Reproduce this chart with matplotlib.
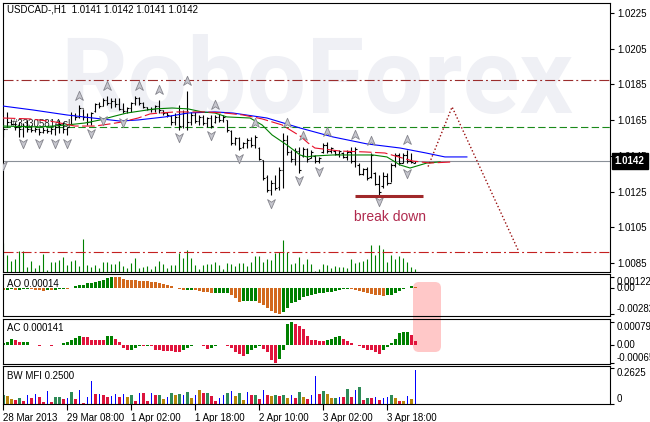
import numpy as np
import matplotlib
matplotlib.use("Agg")
import matplotlib.pyplot as plt
from matplotlib.path import Path
from matplotlib.patches import FancyBboxPatch
from matplotlib.transforms import IdentityTransform

plt.rcParams['font.family'] = ['Liberation Sans', 'DejaVu Sans']
plt.rcParams['font.size'] = 7
plt.rcParams['lines.scale_dashes'] = False

# ---------------- data ----------------
title_text = "USDCAD-,H1  1.0141 1.0142 1.0141 1.0142"
order_label = "#33305814 sl"

high = [1.01661,1.01698,1.01655,1.01642,1.01642,1.01633,1.01651,1.01623,1.01614,1.01605,
        1.01610,1.01605,1.01610,1.01623,1.01651,1.01642,1.01614,1.01698,1.01692,1.01735,
        1.01711,1.01689,1.01698,1.01745,1.01754,1.01773,1.01785,1.01773,1.01773,1.01773,
        1.01745,1.01725,1.01754,1.01785,1.01781,1.01754,1.01725,1.01725,1.01735,1.01763,
        1.01707,1.01698,1.01679,1.01689,1.01735,1.01707,1.01815,1.01698,1.01698,1.01679,
        1.01679,1.01670,1.01679,1.01679,1.01685,1.01679,1.01651,1.01595,1.01556,1.01556,
        1.01528,1.01550,1.01556,1.01567,1.01500,1.01427,1.01343,1.01315,1.01343,1.01388,
        1.01578,1.01567,1.01483,1.01494,1.01500,1.01500,1.01494,1.01483,1.01455,1.01444,
        1.01522,1.01528,1.01500,1.01483,1.01483,1.01472,1.01483,1.01500,1.01500,1.01410,
        1.01382,1.01388,1.01466,1.01360,1.01343,1.01360,1.01354,1.01410,1.01466,1.01466,
        1.01466,1.01483,1.01466,1.01420]
low = [1.01558,1.01610,1.01623,1.01595,1.01558,1.01558,1.01586,1.01586,1.01586,1.01567,
       1.01576,1.01576,1.01573,1.01567,1.01576,1.01576,1.01567,1.01623,1.01651,1.01661,
       1.01651,1.01623,1.01623,1.01698,1.01717,1.01729,1.01735,1.01717,1.01725,1.01707,
       1.01689,1.01689,1.01698,1.01735,1.01735,1.01717,1.01707,1.01698,1.01698,1.01689,
       1.01679,1.01670,1.01623,1.01623,1.01595,1.01605,1.01595,1.01623,1.01633,1.01623,
       1.01623,1.01614,1.01606,1.01634,1.01640,1.01640,1.01584,1.01511,1.01511,1.01483,
       1.01494,1.01494,1.01500,1.01494,1.01427,1.01315,1.01248,1.01231,1.01259,1.01259,
       1.01270,1.01455,1.01416,1.01399,1.01354,1.01444,1.01416,1.01438,1.01410,1.01410,
       1.01466,1.01466,1.01466,1.01455,1.01444,1.01438,1.01427,1.01410,1.01388,1.01343,
       1.01343,1.01315,1.01326,1.01287,1.01231,1.01270,1.01287,1.01304,1.01388,1.01399,
       1.01410,1.01410,1.01410,1.01410]
open_ = [1.01640,1.01600,1.01640,1.01630,1.01610,1.01600,1.01620,1.01600,1.01595,1.01600,
         1.01585,1.01595,1.01590,1.01600,1.01610,1.01630,1.01600,1.01630,1.01680,1.01665,
         1.01720,1.01670,1.01640,1.01700,1.01740,1.01730,1.01765,1.01745,1.01760,1.01740,
         1.01715,1.01700,1.01720,1.01745,1.01775,1.01745,1.01725,1.01715,1.01710,1.01730,
         1.01705,1.01690,1.01675,1.01640,1.01670,1.01620,1.01690,1.01640,1.01680,1.01645,
         1.01665,1.01635,1.01660,1.01640,1.01670,1.01650,1.01650,1.01590,1.01520,1.01550,
         1.01500,1.01520,1.01540,1.01510,1.01495,1.01425,1.01330,1.01260,1.01300,1.01275,
         1.01370,1.01540,1.01470,1.01430,1.01480,1.01450,1.01490,1.01440,1.01450,1.01420,
         1.01470,1.01510,1.01480,1.01475,1.01460,1.01465,1.01445,1.01470,1.01420,1.01400,
         1.01350,1.01375,1.01330,1.01355,1.01295,1.01280,1.01340,1.01300,1.01400,1.01455,
         1.01410,1.01455,1.01420,1.01410]
close = [1.01600,1.01640,1.01630,1.01610,1.01600,1.01620,1.01600,1.01595,1.01600,1.01585,
         1.01595,1.01590,1.01600,1.01610,1.01630,1.01600,1.01610,1.01680,1.01665,1.01720,
         1.01670,1.01640,1.01690,1.01740,1.01730,1.01765,1.01745,1.01760,1.01740,1.01715,
         1.01700,1.01720,1.01745,1.01775,1.01745,1.01725,1.01715,1.01710,1.01730,1.01705,
         1.01690,1.01680,1.01640,1.01670,1.01620,1.01690,1.01640,1.01680,1.01645,1.01665,
         1.01635,1.01660,1.01620,1.01670,1.01650,1.01670,1.01595,1.01520,1.01550,1.01495,
         1.01520,1.01540,1.01510,1.01555,1.01435,1.01325,1.01260,1.01300,1.01270,1.01370,
         1.01540,1.01470,1.01430,1.01480,1.01370,1.01490,1.01430,1.01470,1.01420,1.01440,
         1.01510,1.01480,1.01495,1.01460,1.01475,1.01445,1.01470,1.01420,1.01490,1.01350,
         1.01375,1.01325,1.01455,1.01295,1.01250,1.01340,1.01300,1.01400,1.01455,1.01410,
         1.01455,1.01420,1.01415,1.01420]
volume = [1188,680,440,520,840,840,200,440,160,280,
          720,80,400,400,480,600,280,440,480,240,
          1320,280,200,280,160,400,400,320,320,440,
          240,160,360,560,160,200,240,120,240,440,
          320,160,280,280,760,560,880,560,280,120,
          280,320,320,400,280,120,360,320,240,360,
          360,240,400,640,640,400,520,480,760,800,
          1280,800,320,360,600,320,520,320,40,120,
          320,280,160,240,200,200,160,520,360,400,
          440,520,1080,680,1080,920,400,680,520,640,
          560,400,200,120]

# shifted moving averages (bar position, price)
blue_x = [-0.1, 7.4, 15.9, 22.4, 29.2, 33.7, 40.4, 46.2, 52.9, 57.4, 65.9, 74.2, 82.4, 90.9, 99.2, 105.7, 110.4, 115.9]
blue_y = [1.01729, 1.01707, 1.01679, 1.01662, 1.01645, 1.01651, 1.01668, 1.01690, 1.01696, 1.01690, 1.01662,
          1.01606, 1.01556, 1.01517, 1.01494, 1.01466, 1.01444, 1.01444]
red_x = [-0.1, 6.7, 12.9, 17.9, 22.9, 26.7, 29.7, 33.7, 36.7, 39.2, 42.9, 50.4, 55.4, 59.9, 64.7, 69.7,
         74.2, 76.2, 77.9, 84.2, 90.4, 95.4, 102.4, 106.7, 112.4]
red_y = [1.01662, 1.01657, 1.01640, 1.01617, 1.01617, 1.01629, 1.01640, 1.01662, 1.01685, 1.01690, 1.01696,
         1.01696, 1.01690, 1.01679, 1.01657, 1.01623, 1.01561, 1.01522, 1.01494, 1.01477, 1.01472, 1.01466,
         1.01421, 1.01410, 1.01416]
green_x = [-0.1, 9.2, 15.9, 20.4, 24.2, 27.9, 30.9, 34.2, 37.9, 42.2, 46.2, 49.7, 52.9, 55.9, 61.7, 64.7,
           67.2, 70.9, 74.2, 75.9, 77.4, 82.4, 92.4, 95.9, 99.2, 101.7, 105.9, 109.2]
green_y = [1.01617, 1.01612, 1.01623, 1.01634, 1.01651, 1.01673, 1.01690, 1.01701, 1.01713, 1.01718, 1.01713,
           1.01696, 1.01690, 1.01668, 1.01662, 1.01623, 1.01567, 1.01511, 1.01455, 1.01444, 1.01449, 1.01455,
           1.01455, 1.01444, 1.01399, 1.01382, 1.01410, 1.01416]

# fractals
frac_up_bar = [19, 26, 34, 39, 46, 53, 63, 71, 75, 81, 88, 92, 101]
frac_up_price = [1.01785, 1.01841, 1.01841, 1.01819, 1.01869, 1.01735, 1.01634, 1.01634, 1.01561, 1.01584,
                 1.01567, 1.01533, 1.01539]
frac_dn_bar = [0, 5, 9, 13, 16, 22, 25, 30, 44, 52, 59, 67, 74, 79, 94, 101]
frac_dn_price = [1.01399, 1.01522, 1.01522, 1.01522, 1.01522, 1.01578, 1.01651, 1.01640, 1.01556, 1.01567,
                 1.01438, 1.01186, 1.01315, 1.01365, 1.01197, 1.01354]

# levels and analysis drawing
level_brown = 1.01876
level_green = 1.01610
level_current = 1.0142
level_red = 1.00910
order_label_pos = (2.2, 1.01630)
breakdown_bars = [87.9, 104.9]
breakdown_price = 1.01225
breakdown_label_pos = (96.7, 1.01108)
forecast_x = [106.2, 112.2, 128.7]
forecast_y = [1.01390, 1.01724, 1.00923]

price_ticks = [1.0225, 1.0205, 1.0185, 1.0165, 1.0145, 1.0125, 1.0105, 1.0085]

# oscillators
ao_pts = [-27,-21,-16,-27,-21,-16,-11,-16,-21,-27,
          -29,-21,-27,-21,-16,-11,-16,-5,18,29,
          35,50,54,64,72,83,107,122,120,116,
          100,89,86,81,75,73,70,64,59,48,
          38,27,16,3,-16,-24,-19,-18,-25,-35,
          -43,-48,-55,-54,-53,-52,-50,-75,-107,-146,
          -144,-143,-142,-141,-161,-186,-215,-250,-268,-282,
          -261,-215,-161,-150,-126,-97,-89,-72,-61,-59,
          -56,-48,-43,-35,-27,-16,-11,-16,-25,-35,
          -46,-54,-64,-72,-78,-81,-78,-72,-54,-35,
          -11,3,17,14]
ao_colors = ("oggogggoooogogggog" + "g" * 10 + "o" * 18 + "gg" + "ooooo" + "gggg" + "ooo" + "gggg"
             + "oooooo" + "g" * 17 + "o" * 9 + "g" * 7 + "o")
ac_pts = [46,107,203,143,82,96,107,-8,-25,-61,
          -25,-11,-36,-25,-11,46,96,143,225,286,
          282,261,178,168,164,143,286,289,203,82,
          -118,-189,-186,-118,-46,-71,-36,-71,-189,-214,
          -218,-221,-239,-261,-264,-189,-118,-71,-25,-11,
          -36,-154,-118,-46,-11,-25,-71,-118,-261,-332,
          -428,-332,-214,-118,-46,-154,-275,-546,-650,-511,
          -214,739,793,714,678,560,321,168,143,139,
          136,168,203,261,286,203,118,46,-8,-71,
          -118,-189,-214,-275,-332,-189,-96,36,203,403,
          439,443,357,141]
ac_colors = ("gggrrggrrrggrgg" + "ggggg" + "rrrrrr" + "gg" + "rrrr" + "ggg" + "r" + "g" + "r" * 8
             + "ggggg" + "rr" + "ggg" + "rrrrrr" + "gggg" + "rrrr" + "gggg" + "r" * 8 + "gggg"
             + "r" * 10 + "g" * 7 + "rr")
mfi = [0.0698,0.0623,0.0375,0.0300,0.0473,0.0248,0.0698,0.0473,0.0728,0.0503,
       0.0173,0.0998,0.0173,0.0503,0.0548,0.0398,0.0473,0.0923,0.0375,0.1073,
       0.0098,0.0548,0.1673,0.0773,0.0728,0.0675,0.0503,0.0623,0.0728,0.0548,
       0.0750,0.0503,0.0698,0.0248,0.0803,0.0848,0.0248,0.0848,0.0698,0.0698,
       0.0398,0.0503,0.0803,0.0698,0.0728,0.0675,0.0923,0.0473,0.0675,0.1073,
       0.0848,0.0848,0.0623,0.0248,0.0428,0.0698,0.0848,0.0998,0.0623,0.0848,
       0.0323,0.0923,0.0653,0.0653,0.0398,0.1073,0.0698,0.0623,0.0698,0.0623,
       0.0698,0.0473,0.0698,0.0473,0.0923,0.0548,0.0398,0.0698,0.2048,0.0773,
       0.0998,0.0773,0.0473,0.0473,0.0548,0.0548,0.1148,0.0548,0.1073,0.1298,
       0.0323,0.0473,0.0473,0.0548,0.0323,0.0473,0.0548,0.0698,0.0473,0.0248,
       0.0248,0.0623,0.0398,0.2500]
mfi_colors = ("gyyrgrbrbr" "rbrggrbgrb" "rbbrbrrbbr" "bygrbrrbrg" "ybgygbgyby"
              "rgrrbbgbyg" "ybrgrbrygr" "gybrgyrbbr" "gyygbrgrbg" "rgrbrbbgyr" "ybyb")

xtick_bars = [0, 16, 32, 48, 64, 80, 96]
xtick_labels = ["28 Mar 2013", "29 Mar 08:00", "1 Apr 02:00", "1 Apr 18:00",
                "2 Apr 10:00", "3 Apr 02:00", "3 Apr 18:00"]

# ---------------- figure ----------------
W, H = 650, 422
fig = plt.figure(figsize=(W / 100, H / 100), dpi=100, facecolor='white')

def px_axes(x0, y0, x1, y1):
    return fig.add_axes([x0 / W, 1 - y1 / H, (x1 - x0) / W, (y1 - y0) / H])

x_lim = (-0.08, 151.68)
ax = px_axes(3, 3, 610, 272.3)
vax = ax.twinx()
ax.set_zorder(vax.get_zorder() + 1)
ax.patch.set_visible(False)
vax.patch.set_visible(False)
ax_ao = px_axes(3, 274, 610, 316)
ax_ac = px_axes(3, 318.7, 610, 364)
ax_mfi = px_axes(3, 366.3, 610, 404.3)

for a in (ax, ax_ao, ax_ac, ax_mfi):
    a.set_xlim(*x_lim)
    for s in a.spines.values():
        s.set_linewidth(0.8)
        s.set_color('black')
    a.set_facecolor('none')
for s in vax.spines.values():
    s.set_visible(False)
vax.set_xlim(*x_lim)
vax.set_yticks([])
vax.tick_params(right=False, left=False)

bars = np.arange(len(high))

# watermark
ax.text(314 / 607, 0.59, "RoboForex", transform=ax.transAxes, ha='center', va='baseline',
        fontsize=76, fontweight='bold', family='Roboto', color='#eff0f5', zorder=0.1)

# horizontal levels
ax.axhline(level_brown, color='#9b2d2d', lw=0.8, ls=(0, (7.2, 2.2, 1.4, 2.2)), zorder=1)
ax.axhline(level_green, color='#1a8a1a', lw=0.8, ls=(0, (5.3, 2.4)), zorder=1)
ax.axhline(level_current, color='#8a9098', lw=0.8, zorder=1)
ax.axhline(level_red, color='#c42020', lw=0.8, ls=(0, (7.2, 2.2, 1.4, 2.2)), zorder=1)
ax.text(order_label_pos[0], order_label_pos[1], order_label, fontsize=7, color='#202020',
        ha='left', va='center', zorder=2)

# volumes
vax.vlines(np.arange(len(volume)), 0, volume, color='#008000', lw=0.8)
vax.set_ylim(0, 10772)

# OHLC bars
ax.vlines(bars, low, high, color='black', lw=0.8, zorder=3)
ax.hlines(open_, bars - 0.45, bars, color='black', lw=0.8, zorder=3)
ax.hlines(close, bars, bars + 0.45, color='black', lw=0.8, zorder=3)

# moving averages
ax.plot(blue_x, blue_y, color='#0000ff', lw=0.8, zorder=4)
ax.plot(green_x, green_y, color='#008000', lw=0.8, zorder=4)
ax.plot(red_x, red_y, color='#e8102a', lw=0.8, ls=(0, (9, 2.5)), zorder=4)

# fractals
up_path = Path([(0, 1), (0.75, -0.75), (0, -0.25), (-0.75, -0.75), (0, 1)],
               [Path.MOVETO, Path.LINETO, Path.LINETO, Path.LINETO, Path.CLOSEPOLY])
dn_path = Path([(0, -1), (0.75, 0.75), (0, 0.25), (-0.75, 0.75), (0, -1)],
               [Path.MOVETO, Path.LINETO, Path.LINETO, Path.LINETO, Path.CLOSEPOLY])
ax.plot(frac_up_bar, frac_up_price, ls='none', marker=up_path, ms=7.5, mfc='#c6c6ce', mec='#85858d',
        mew=0.6, zorder=5)
ax.plot(frac_dn_bar, frac_dn_price, ls='none', marker=dn_path, ms=7.5, mfc='#c6c6ce', mec='#85858d',
        mew=0.6, zorder=5)

# analysis drawing
ax.plot(breakdown_bars, [breakdown_price, breakdown_price], color='#a0282a', lw=2.2, zorder=6,
        solid_capstyle='butt')
ax.text(breakdown_label_pos[0], breakdown_label_pos[1], "break down", color='#b02a4e', fontsize=10,
        ha='center', va='center', zorder=6)
ax.plot(forecast_x, forecast_y, color='#9a1010', lw=1.0, ls=(0, (1, 1.6)), zorder=6)

ax.set_ylim(1.00798, 1.02306)
ax.yaxis.tick_right()
ax.set_yticks(price_ticks, [f"{t:.4f}" for t in price_ticks])
ax.tick_params(axis='y', right=True, left=False, length=3, width=0.8, pad=2, labelsize=7)
ax.tick_params(axis='x', bottom=False, labelbottom=False)
ax.annotate(f"{level_current:.4f}", xy=(1.0, level_current), xycoords=('axes fraction', 'data'),
            xytext=(3.5, 0), textcoords='offset points', ha='left', va='center', color='white',
            fontsize=7, fontweight='bold', annotation_clip=False, zorder=10,
            bbox=dict(boxstyle='square,pad=0.3', fc='black', ec='black'))
ax.text(4 / 607, 0.975, title_text, transform=ax.transAxes, ha='left', va='center', fontsize=7,
        color='black', zorder=7)

# pink highlight box behind AO / AC
box = FancyBboxPatch((413, H - 352), 28, 70, boxstyle='round,pad=0,rounding_size=6',
                     transform=IdentityTransform(), fc='#ffc8c8', ec='none', zorder=-1)
fig.add_artist(box)

cmap_ao = {'g': '#008000', 'o': '#d2691e'}
cmap_ac = {'g': '#008000', 'r': '#e0143c'}
cmap_mfi = {'g': '#2e8b57', 'y': '#b8860b', 'r': '#dc143c', 'b': '#0000ff'}

ao = np.array(ao_pts) * 1e-5
ax_ao.bar(np.arange(len(ao)), ao, width=0.75, color=[cmap_ao[c] for c in ao_colors], linewidth=0)
ax_ao.set_ylim(-0.00301, 0.00150)
ax_ao.text(4 / 607, 0.76, "AO 0.00014", transform=ax_ao.transAxes, va='center', fontsize=7)

ac = np.array(ac_pts) * 1e-6
ax_ac.bar(np.arange(len(ac)), ac, width=0.75, color=[cmap_ac[c] for c in ac_colors], linewidth=0)
ax_ac.set_ylim(-0.000696, 0.000921)
ax_ac.text(4 / 607, 0.795, "AC 0.000141", transform=ax_ac.transAxes, va='center', fontsize=7)

mfi_w = [0.25 if c == 'b' else 0.75 for c in mfi_colors]
ax_mfi.bar(np.arange(len(mfi)), mfi, width=mfi_w, color=[cmap_mfi[c] for c in mfi_colors], linewidth=0)
ax_mfi.set_ylim(0, 0.2775)
ax_mfi.text(4 / 607, 0.745, "BW MFI 0.2500", transform=ax_mfi.transAxes, va='center', fontsize=7)

def right_ticks(a, vals, labs, vas):
    a.yaxis.tick_right()
    a.set_yticks(vals, labs)
    a.tick_params(axis='y', right=True, left=False, length=3, width=0.8, pad=2, labelsize=7)
    for lab, va in zip(a.get_yticklabels(), vas):
        lab.set_va(va)

right_ticks(ax_ao, [0.00122, 0.0, -0.00282], ["0.00122", "0.00", "-0.00282"], ['top', 'center', 'bottom'])
right_ticks(ax_ac, [0.000793, 0.0, -0.00065], ["0.000793", "0.00", "-0.00065"], ['top', 'center', 'bottom'])
right_ticks(ax_mfi, [0.2625, 0.0], ["0.2625", "0"], ['top', 'bottom'])

for a in (ax_ao, ax_ac):
    a.tick_params(axis='x', bottom=False, labelbottom=False)
ax_mfi.set_xticks(xtick_bars, xtick_labels)
ax_mfi.tick_params(axis='x', length=4, width=0.8, pad=2, labelsize=7)
for lab in ax_mfi.get_xticklabels():
    lab.set_ha('left')

fig.savefig("out.png", dpi=100, facecolor='white')
